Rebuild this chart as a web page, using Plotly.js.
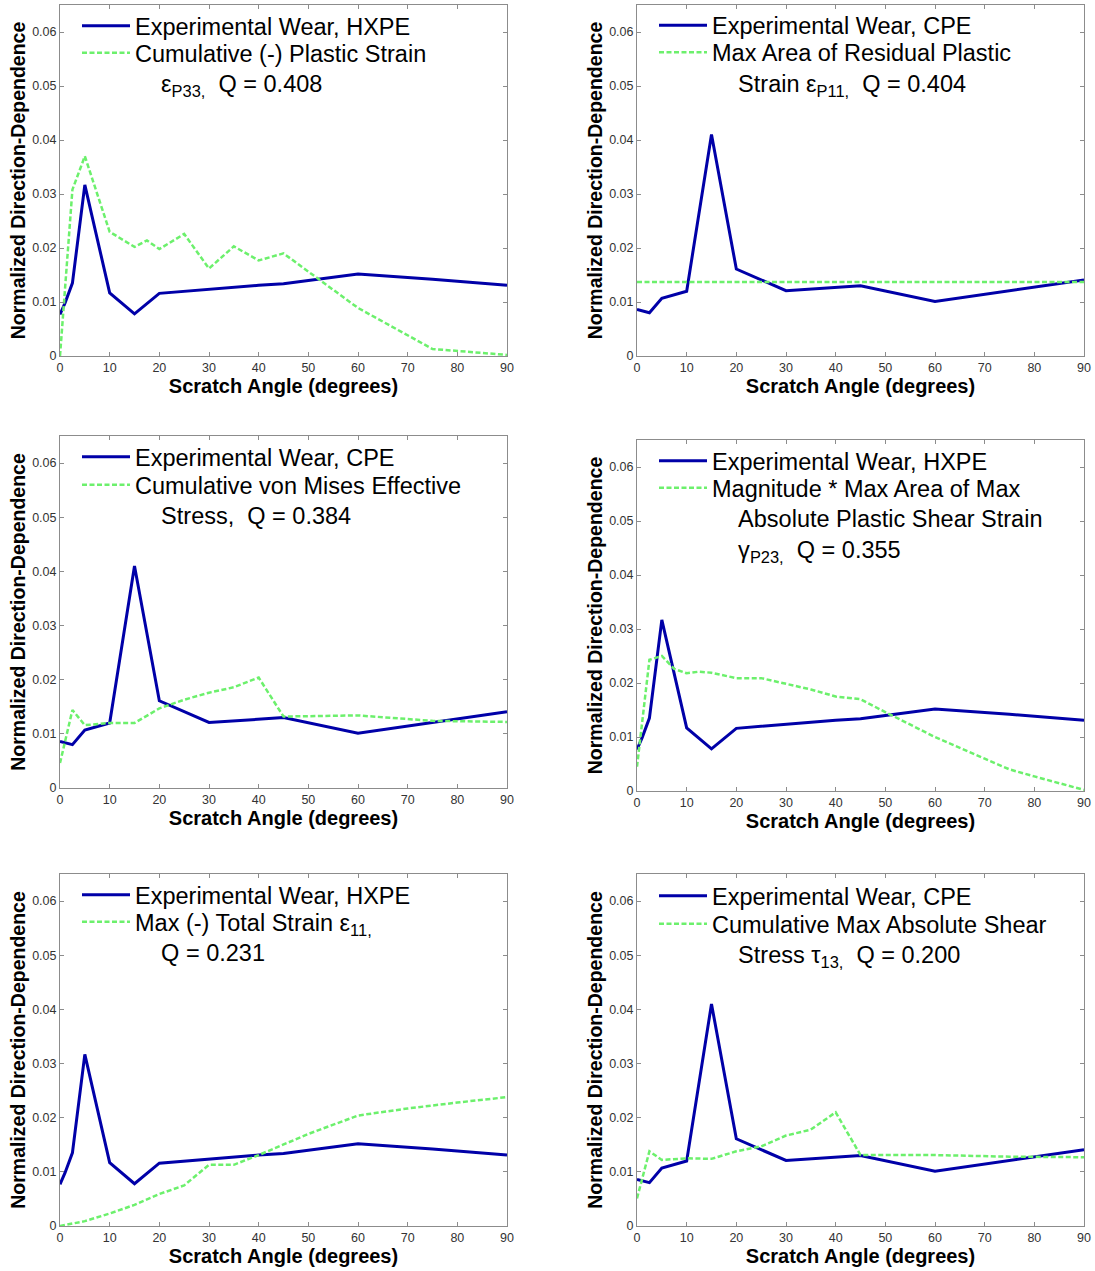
<!DOCTYPE html>
<html>
<head>
<meta charset="utf-8">
<script src="https://cdn.plot.ly/plotly-3.0.1.min.js"></script>
<style>html,body{margin:0;padding:0;background:#fff;}#chart{width:1095px;height:1271px;}</style>
</head>
<body>
<div id="chart"></div>
<script>
// ---- data ----
const angleHXPE = [0, 1, 2.5, 5, 10, 15, 20, 25, 30, 35, 40, 45, 60, 75, 90];
const wearHXPE  = [0.0077, 0.0098, 0.0135, 0.0317, 0.0117, 0.0078, 0.0116, 0.0120, 0.0124, 0.0127, 0.0131, 0.0134, 0.0152, 0.0142, 0.0131];
const angleCPE  = [0, 2.5, 5, 10, 15, 20, 30, 45, 60, 90];
const wearCPE   = [0.0086, 0.0080, 0.0107, 0.0120, 0.0410, 0.0161, 0.0121, 0.0130, 0.0101, 0.0141];

const angleP33  = [0, 2.5, 5, 10, 15, 17.5, 20, 25, 30, 35, 40, 45, 60, 75, 90];
const plasticP33 = [0, 0.0308, 0.0370, 0.0230, 0.0202, 0.0214, 0.0198, 0.0226, 0.0162, 0.0203, 0.0177, 0.0190, 0.0089, 0.0013, 0.0002];

const angleP11  = [0, 90];
const residualP11 = [0.0137, 0.0137];

const angleVM   = [0, 2.5, 5, 10, 15, 20, 25, 30, 35, 40, 45, 60, 75, 90];
const vonMises  = [0.0046, 0.0144, 0.0116, 0.0120, 0.0120, 0.0147, 0.0163, 0.0176, 0.0186, 0.0204, 0.0132, 0.0134, 0.0124, 0.0122];

const angleP23  = [0, 2.5, 5, 7.5, 10, 12.5, 15, 20, 25, 30, 35, 40, 45, 50, 60, 70, 75, 80, 90];
const shearP23  = [0.0045, 0.0243, 0.0250, 0.0226, 0.0218, 0.0221, 0.0219, 0.0209, 0.0209, 0.0198, 0.0188, 0.0175, 0.0170, 0.0146, 0.0100, 0.0060, 0.0040, 0.0027, 0.0002];

const angleE11  = [0, 5, 10, 15, 20, 25, 30, 35, 40, 45, 50, 60, 70, 80, 90];
const totalE11  = [0, 0.0009, 0.0023, 0.0039, 0.0059, 0.0075, 0.0113, 0.0113, 0.0131, 0.0151, 0.0170, 0.0204, 0.0217, 0.0228, 0.0238];

const angleT13  = [0, 2.5, 5, 10, 15, 20, 25, 30, 35, 40, 45, 60, 75, 90];
const shearT13  = [0.0051, 0.0138, 0.0122, 0.0125, 0.0124, 0.0138, 0.0147, 0.0167, 0.0178, 0.0210, 0.0131, 0.0131, 0.0128, 0.0127];

const xTicks = [0, 10, 20, 30, 40, 50, 60, 70, 80, 90];
const yTicks = [0, 0.01, 0.02, 0.03, 0.04, 0.05, 0.06];
const yTickText = ['0', '0.01', '0.02', '0.03', '0.04', '0.05', '0.06'];

const xTitle = 'Scratch Angle (degrees)';
const yTitle = 'Normalized Direction-Dependence';

const IND = '\u00a0\u00a0\u00a0\u00a0';
const panels = [
  {wearName: 'Experimental Wear, HXPE', wx: angleHXPE, wy: wearHXPE,
   modelName: 'Cumulative (-) Plastic Strain<br>' + IND + 'ε<sub>P33,</sub>  Q = 0.408', mx: angleP33, my: plasticP33},
  {wearName: 'Experimental Wear, CPE', wx: angleCPE, wy: wearCPE,
   modelName: 'Max Area of Residual Plastic<br>' + IND + 'Strain ε<sub>P11,</sub>  Q = 0.404', mx: angleP11, my: residualP11},
  {wearName: 'Experimental Wear, CPE', wx: angleCPE, wy: wearCPE,
   modelName: 'Cumulative von Mises Effective<br>' + IND + 'Stress,  Q = 0.384', mx: angleVM, my: vonMises},
  {wearName: 'Experimental Wear, HXPE', wx: angleHXPE, wy: wearHXPE,
   modelName: 'Magnitude * Max Area of Max<br>' + IND + 'Absolute Plastic Shear Strain<br>' + IND + 'γ<sub>P23,</sub>  Q = 0.355', mx: angleP23, my: shearP23},
  {wearName: 'Experimental Wear, HXPE', wx: angleHXPE, wy: wearHXPE,
   modelName: 'Max (-) Total Strain ε<sub>11,</sub><br>' + IND + 'Q = 0.231', mx: angleE11, my: totalE11},
  {wearName: 'Experimental Wear, CPE', wx: angleCPE, wy: wearCPE,
   modelName: 'Cumulative Max Absolute Shear<br>' + IND + 'Stress τ<sub>13,</sub>  Q = 0.200', mx: angleT13, my: shearT13}
];

// ---- layout geometry (pixels) ----
const W = 1095, H = 1271;
const cols = [[60, 507], [637, 1084]];
const rows = [[5, 356], [5, 356], [436, 788], [440, 791], [874, 1226], [874, 1226]];
// top pixel of each legend block: [experimental entry, model entry]
const legTops = [[4, 31], [3.5, 30.5], [435, 463], [439, 466], [873, 900], [874, 902]];

const BLUE = '#0000A8';
const GREEN = '#6CF06C';
const FONT = 'Liberation Sans, Arial, Helvetica, sans-serif';
const LEGFS = 23.5;

const data = [];
const layout = {
  width: W, height: H,
  margin: {l: 0, r: 0, t: 0, b: 0},
  paper_bgcolor: '#ffffff', plot_bgcolor: '#ffffff',
  font: {family: FONT, color: '#000'},
  showlegend: true
};

function legName(k) { return k === 1 ? 'legend' : 'legend' + k; }

panels.forEach((p, i) => {
  const n = i + 1;
  const c = cols[i % 2];
  const r = rows[i];
  const xa = 'x' + (n === 1 ? '' : n);
  const ya = 'y' + (n === 1 ? '' : n);
  const lgA = legName(2 * n - 1);
  const lgB = legName(2 * n);
  data.push({
    x: p.wx, y: p.wy, xaxis: xa, yaxis: ya, legend: lgA,
    type: 'scatter', mode: 'lines', name: p.wearName,
    line: {color: BLUE, width: 3}
  });
  data.push({
    x: p.mx, y: p.my, xaxis: xa, yaxis: ya, legend: lgB,
    type: 'scatter', mode: 'lines', name: p.modelName,
    line: {color: GREEN, width: 2.5, dash: '5px,2.5px'}
  });
  const axCommon = {
    showline: true, linecolor: '#8c8c8c', linewidth: 1, mirror: 'ticks',
    ticks: 'inside', ticklen: 4, tickcolor: '#8c8c8c', tickwidth: 1,
    showgrid: false, zeroline: false, fixedrange: true,
    tickfont: {family: FONT, size: 12.5, color: '#333'}
  };
  layout['xaxis' + (n === 1 ? '' : n)] = Object.assign({}, axCommon, {
    domain: [c[0] / W, c[1] / W], anchor: ya, range: [0, 90],
    tickmode: 'array', tickvals: xTicks, ticktext: xTicks.map(String),
    title: {text: '<b>' + xTitle + '</b>', font: {family: FONT, size: 20, color: '#000'}, standoff: 2}
  });
  layout['yaxis' + (n === 1 ? '' : n)] = Object.assign({}, axCommon, {
    domain: [1 - r[1] / H, 1 - r[0] / H], anchor: xa, range: [0, 0.065],
    tickmode: 'array', tickvals: yTicks, ticktext: yTickText,
    title: {text: '<b>' + yTitle + '</b>', font: {family: FONT, size: 19.5, color: '#000'}, standoff: 1}
  });
  const legCommon = {
    x: (c[0] + 17) / W, xanchor: 'left', yanchor: 'top',
    xref: 'paper', yref: 'paper',
    bgcolor: 'rgba(0,0,0,0)', borderwidth: 0,
    font: {family: FONT, size: LEGFS, color: '#000'},
    itemwidth: 48, valign: 'top', traceorder: 'normal'
  };
  layout[lgA] = Object.assign({}, legCommon, {y: 1 - legTops[i][0] / H});
  layout[lgB] = Object.assign({}, legCommon, {y: 1 - legTops[i][1] / H});
});

Plotly.newPlot('chart', data, layout, {staticPlot: true, displayModeBar: false});
</script>
</body>
</html>
